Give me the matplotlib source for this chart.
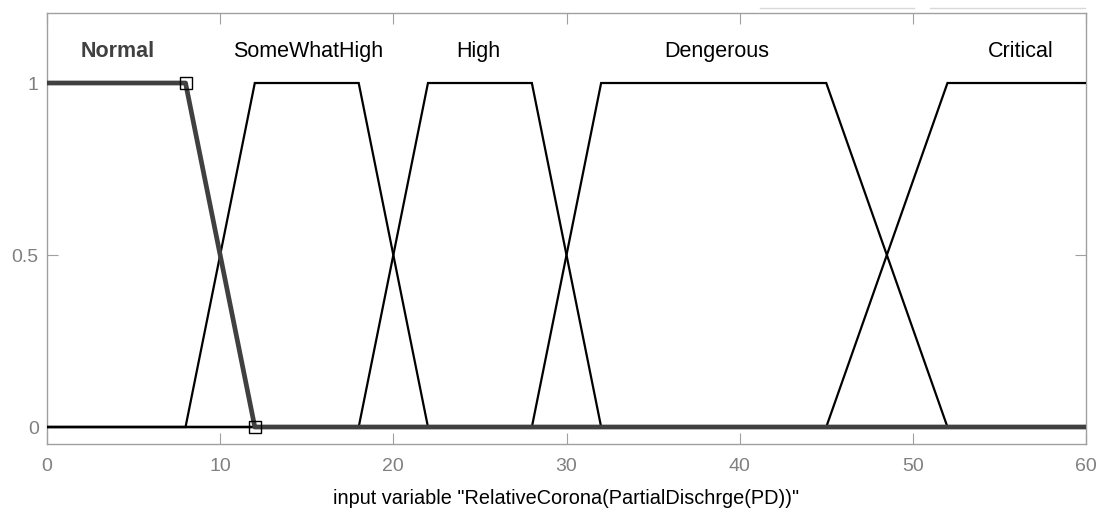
import matplotlib
matplotlib.use("Agg")
import matplotlib.pyplot as plt
from matplotlib.lines import Line2D

plt.rcParams['font.family'] = ['Liberation Sans', 'DejaVu Sans']

# Membership functions (trapezoid breakpoints)
mf_names = ["Normal", "SomeWhatHigh", "High", "Dengerous", "Critical"]
mf_x = [
    [0, 8, 12, 60],
    [0, 8, 12, 18, 22, 60],
    [0, 18, 22, 28, 32, 60],
    [0, 28, 32, 45, 52, 60],
    [0, 45, 52, 60],
]
mf_y = [
    [1, 1, 0, 0],
    [0, 0, 1, 1, 0, 0],
    [0, 0, 1, 1, 0, 0],
    [0, 0, 1, 1, 0, 0],
    [0, 0, 1, 1],
]
label_x = [4.07, 15.1, 24.9, 38.65, 56.26]
label_y = 1.0756
selected_x = [8, 12]
selected_y = [1, 0]

xticks = [0, 10, 20, 30, 40, 50, 60]
yticks = [0, 0.5, 1]
ytick_labels = ["0", "0.5", "1"]
xlabel = 'input variable "RelativeCorona(PartialDischrge(PD))"'

fig = plt.figure(figsize=(11.02, 5.11), dpi=100)
ax = fig.add_axes([47/1102, 1 - 444/511, (1086-47)/1102, (444-13)/511])

for i, (xs, ys) in enumerate(zip(mf_x, mf_y)):
    if i == 0:
        continue
    ax.plot(xs, ys, color="black", lw=1.6, solid_joinstyle="miter", zorder=3)
ax.plot(mf_x[0], mf_y[0], color="#404040", lw=3.4, zorder=4)
ax.plot(selected_x, selected_y, linestyle="none", marker="s", markersize=9,
        markerfacecolor="none", markeredgecolor="black", markeredgewidth=1.0, zorder=5)

for i, (name, lx) in enumerate(zip(mf_names, label_x)):
    ax.text(lx, label_y, name, ha="center", va="baseline", fontsize=15.5,
            color="#404040" if i == 0 else "black",
            fontweight="bold" if i == 0 else "normal")

ax.set_xlim(0, 60)
ax.set_ylim(-0.0494, 1.2035)
ax.set_xticks(xticks)
ax.set_yticks(yticks)
ax.set_yticklabels(ytick_labels)
ax.tick_params(axis="x", direction="in", top=True, bottom=True, length=8,
               color="#a0a0a0", labelcolor="#808080", labelsize=14, pad=10)
ax.tick_params(axis="y", direction="in", left=True, right=True, length=8,
               color="#a0a0a0", labelcolor="#808080", labelsize=14, pad=6)
for s in ax.spines.values():
    s.set_color("#a0a0a0")
    s.set_linewidth(1.0)
ax.set_xlabel(xlabel, fontsize=14.3, color="black", labelpad=10)

# GUI remnants above the axes
fig.add_artist(Line2D([760/1102, 914/1102], [1 - 8/511, 1 - 8/511], color="#d8d8d8", lw=1))
fig.add_artist(Line2D([930/1102, 1085/1102], [1 - 8/511, 1 - 8/511], color="#d8d8d8", lw=1))

fig.savefig("out.png", dpi=100)
